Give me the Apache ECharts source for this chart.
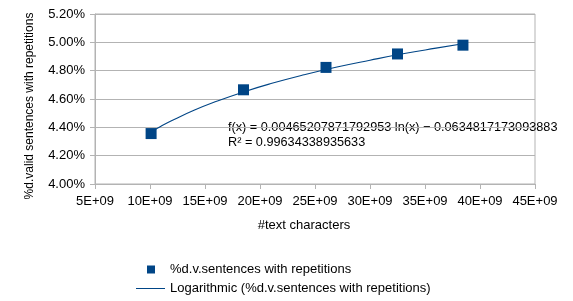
<!DOCTYPE html>
<html>
<head>
<meta charset="utf-8">
<script src="https://cdn.jsdelivr.net/npm/echarts@6/dist/echarts.min.js"></script>
<style>html,body{margin:0;padding:0;background:#fff}#c{width:573px;height:301px}</style>
</head>
<body>
<div id="c"></div>
<script>
// Data (x in units of 1E+09 characters, y in %)
var charCounts = [10.1, 18.5, 26.0, 32.5, 38.45];
var repPercent = [4.356, 4.665, 4.823, 4.918, 4.980];
// Trend line points
var trendX = [10.1, 11, 12, 14, 16, 18.5, 21, 24, 27, 30, 33, 36, 38.45];
var trendY = [4.368, 4.408, 4.448, 4.520, 4.582, 4.650, 4.709, 4.771, 4.826, 4.874, 4.919, 4.959, 4.990];
var xTicks = {min: 5, max: 45, step: 5};
var yTicks = {min: 4.0, max: 5.2, step: 0.2};
var seriesName = '%d.v.sentences with repetitions';
var trendName = 'Logarithmic (%d.v.sentences with repetitions)';
var eqText = 'f(x) = 0.00465207871792953 ln(x) \u2212 0.0634817173093883';
var r2Text = 'R\u00B2 = 0.99634338935633';
var xTitle = '#text characters';
var yTitle = '%d.valid sentences with repetitions';

var pts = charCounts.map(function(x, i){ return [x, repPercent[i]]; });
var trend = trendX.map(function(x, i){ return [x, trendY[i]]; });
var font = 'Liberation Sans, Arial, sans-serif';
var blue = '#004586';
var grey = '#b3b3b3';

var chart = echarts.init(document.getElementById('c'), null, {renderer: 'canvas'});
chart.setOption({
  animation: false,
  backgroundColor: '#fff',
  textStyle: {fontFamily: font},
  grid: {left: 95, right: 38, top: 14, bottom: 117, show: true, borderColor: grey, borderWidth: 1, containLabel: false},
  xAxis: {
    type: 'value', min: xTicks.min, max: xTicks.max, interval: xTicks.step,
    axisLine: {show: true, lineStyle: {color: grey}},
    axisTick: {show: true, length: 5, lineStyle: {color: grey}},
    splitLine: {show: false},
    axisLabel: {color: '#000', fontSize: 13, fontFamily: font, margin: 11,
      formatter: function(v){ return Math.round(v) + 'E+09'; }}
  },
  yAxis: {
    type: 'value', min: yTicks.min, max: yTicks.max, interval: yTicks.step,
    axisLine: {show: true, lineStyle: {color: grey}},
    axisTick: {show: true, length: 5, lineStyle: {color: grey}},
    splitLine: {show: true, lineStyle: {color: grey, width: 1}},
    axisLabel: {color: '#000', fontSize: 13, fontFamily: font, margin: 10,
      formatter: function(v){ return v.toFixed(2) + '%'; }}
  },
  legend: [
    {data: [{name: seriesName, icon: 'rect', itemStyle: {color: blue, opacity: 1}}], orient: 'vertical', left: 147, top: 263,
     itemWidth: 8, itemHeight: 8, padding: 0,
     textStyle: {color: '#000', fontSize: 13, fontFamily: font, padding: [0, 0, 0, 10]}},
    {data: [{name: trendName, icon: 'rect', itemStyle: {color: blue}}], orient: 'vertical', left: 136, top: 282,
     itemWidth: 29, itemHeight: 1, padding: 0,
     textStyle: {color: '#000', fontSize: 13, fontFamily: font, padding: [0, 0, 0, 0]}}
  ],
  series: [
    {name: trendName, type: 'line', data: trend, smooth: true, showSymbol: false, symbol: 'none',
     lineStyle: {color: blue, width: 1.1}, itemStyle: {color: blue}, z: 2},
    {name: seriesName, type: 'scatter', data: pts, symbol: 'rect', symbolSize: 11,
     itemStyle: {color: blue, opacity: 1}, z: 3}
  ],
  graphic: [
    {type: 'text', left: 228, top: 121, style: {text: eqText, fill: '#000', font: '12.7px ' + font}},
    {type: 'text', left: 228, top: 136, style: {text: r2Text, fill: '#000', font: '12.7px ' + font}},
    {type: 'text', x: 304, y: 225, style: {text: xTitle, fill: '#000', font: '13px ' + font, align: 'center', verticalAlign: 'middle'}},
    {type: 'text', x: 30, y: 106, rotation: Math.PI / 2, style: {text: yTitle, fill: '#000', font: '12px ' + font, align: 'center', verticalAlign: 'middle'}}
  ]
});
</script>
</body>
</html>
